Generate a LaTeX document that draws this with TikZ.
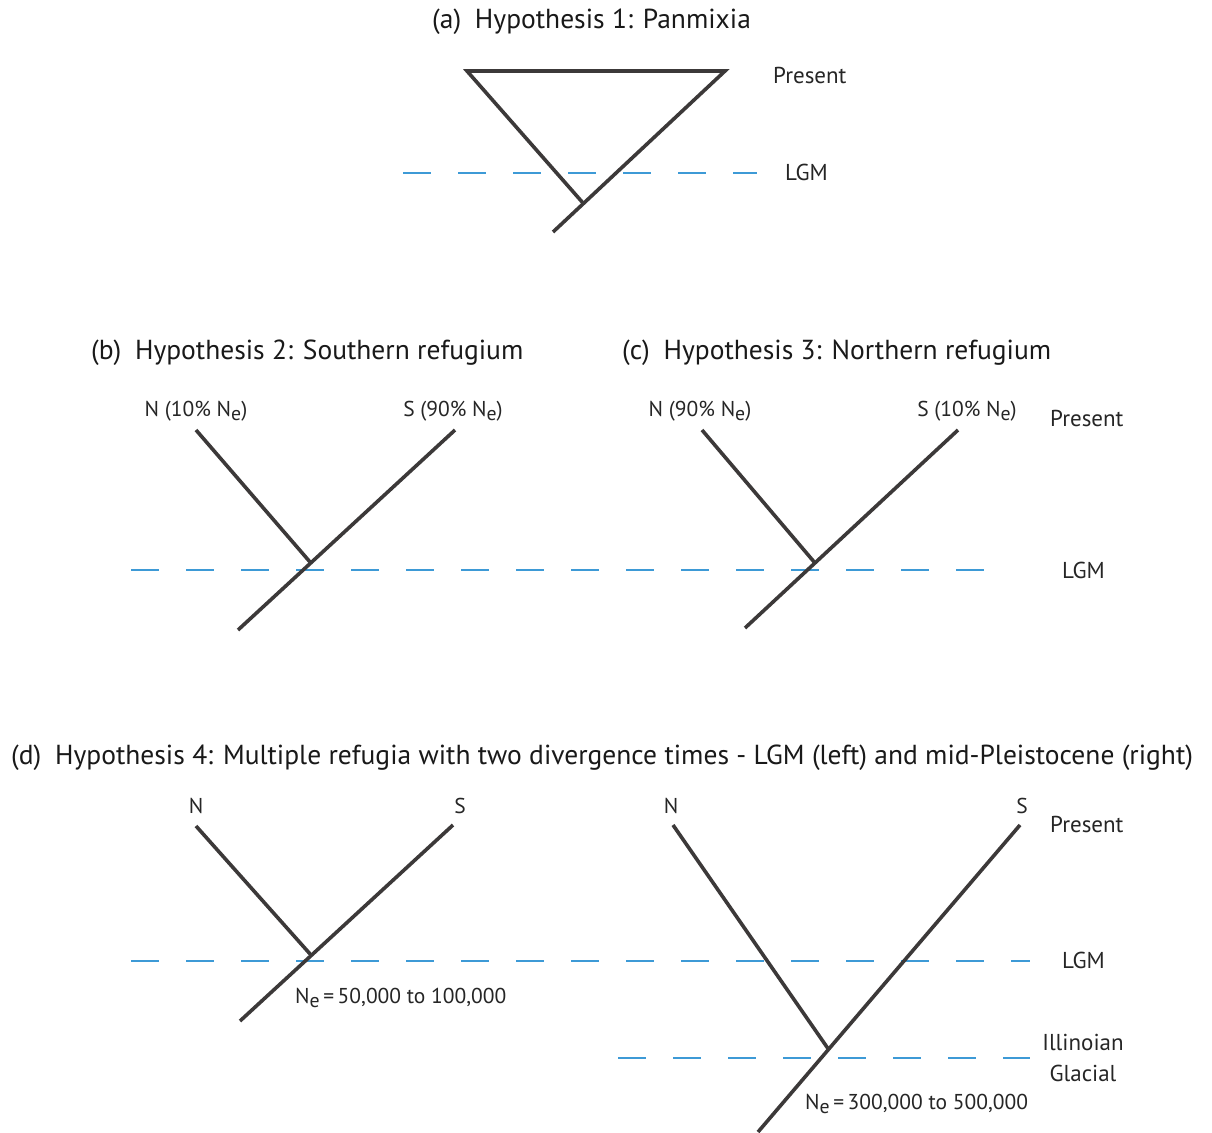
\documentclass[tikz,border=0pt]{standalone}
\usepackage{fontspec}
\setmainfont{PT Sans}
\newcommand{\Nsub}{N\raisebox{-0.4ex}{\scalebox{0.92}{e}}}
\definecolor{branchc}{HTML}{3C3939}
\definecolor{dashc}{HTML}{3D9AD6}
\begin{document}
\begin{tikzpicture}[x=1pt,y=-1pt,
  branch/.style={draw=branchc,line width=3.6pt},
  epoch/.style={draw=dashc,line width=2pt,dash pattern=on 28pt off 27pt},
  title/.style={font=\fontsize{27.5}{32}\selectfont,inner sep=0pt,anchor=west,text=black!90},
  lab/.style={font=\fontsize{23}{27}\selectfont,inner sep=0pt,text=black!85},
  tip/.style={font=\fontsize{21.5}{25}\selectfont,inner sep=0pt,text=black!85},
  ]
\useasboundingbox[fill=white] (0,0) rectangle (1212,1132);
% ---------- (a)
\node[title] (ta) at (432,22) {(a)\enspace Hypothesis 1: Panmixia};
\coordinate (a1) at (467,71);
\coordinate (a2) at (725,71);
\coordinate (aj) at (583,203);
\coordinate (ar) at (553,232);
\draw[epoch] (403,173) coordinate (aL1) -- (757,173) coordinate (aL2);
\draw[branch,line join=miter] (aj) -- (a1) -- (a2) -- (ar);
\node[lab,anchor=west] (pa) at (773,75) {Present};
\node[lab,anchor=west] (la) at (785,172) {LGM};
% ---------- (b)
\node[title] (tb) at (91,353) {(b)\enspace Hypothesis 2: Southern refugium};
\node[tip] (bN) at (196,411) {N (10\% \Nsub)};
\node[tip] (bS) at (453,411) {S (90\% \Nsub)};
\draw[epoch] (131,570) coordinate (bL1) -- (1003,570) coordinate (bL2);
\coordinate (bNt) at (196,430);
\coordinate (bj) at (310,562);
\coordinate (bSt) at (455,430);
\coordinate (br) at (238,630);
\draw[branch] (bNt) -- (bj);
\draw[branch] (bSt) -- (br);
% ---------- (c)
\node[title] (tc) at (622,353) {(c)\enspace Hypothesis 3: Northern refugium};
\node[tip] (cN) at (700,411) {N (90\% \Nsub)};
\node[tip] (cS) at (967,411) {S (10\% \Nsub)};
\coordinate (cNt) at (702,430);
\coordinate (cj) at (815,563);
\coordinate (cSt) at (958,430);
\coordinate (cr) at (745,628);
\draw[branch] (cNt) -- (cj);
\draw[branch] (cSt) -- (cr);
\node[lab,anchor=west] (pc) at (1050,418) {Present};
\node[lab,anchor=west] (lc) at (1062,570) {LGM};
% ---------- (d)
\node[title] (td) at (11,758) {(d)\enspace Hypothesis 4: Multiple refugia with two divergence times - LGM (left) and mid-Pleistocene (right)};
\draw[epoch] (131,961) coordinate (dL1) -- (1030,961) coordinate (dL2);
\draw[epoch] (618,1058) coordinate (dI1) -- (1030,1058) coordinate (dI2);
% left tree
\node[tip] (dN1) at (196,806) {N};
\node[tip] (dS1) at (460,806) {S};
\coordinate (d1Nt) at (196,826);
\coordinate (d1j) at (311,955);
\coordinate (d1St) at (453,825);
\coordinate (d1r) at (240,1021);
\draw[branch] (d1Nt) -- (d1j);
\draw[branch] (d1St) -- (d1r);
\node[tip,anchor=west] (ne1) at (295,998) {\Nsub\,=\,50,000 to 100,000};
% right tree
\node[tip] (dN2) at (671,806) {N};
\node[tip] (dS2) at (1022,806) {S};
\coordinate (d2Nt) at (673,825);
\coordinate (d2j) at (829,1050);
\coordinate (d2St) at (1020,825);
\coordinate (d2r) at (758,1132);
\draw[branch] (d2Nt) -- (d2j);
\draw[branch] (d2St) -- (d2r);
\node[tip,anchor=west] (ne2) at (805,1104) {\Nsub\,=\,300,000 to 500,000};
\node[lab,anchor=west] (pd) at (1050,824) {Present};
\node[lab,anchor=west] (ld) at (1062,960) {LGM};
\node[lab,align=center,font=\fontsize{23}{31}\selectfont] (ig) at (1083,1058) {Illinoian\\Glacial};
\end{tikzpicture}
\end{document}
